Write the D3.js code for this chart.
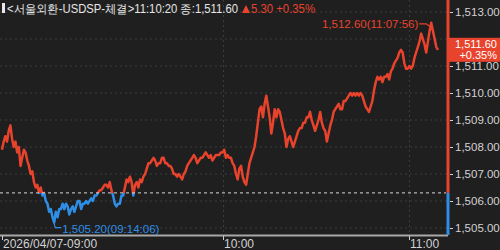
<!DOCTYPE html>
<html><head><meta charset="utf-8">
<script src="https://cdn.jsdelivr.net/npm/d3@7"></script>
<style>
html,body{margin:0;padding:0;background:#1f1f1f;}
svg{display:block;}
text{font-family:"Liberation Sans",Arial,sans-serif;}
</style></head>
<body><svg id="c" width="500" height="250"></svg>
<script>
// ---- data ----
const prices = [
1507.9,1508.2,1508.4,1508.2,1508.6,1508.8,1508.3,1508.0,1508.2,1507.8,
1508.0,1507.3,1507.6,1507.9,1507.8,1507.5,1507.3,1507.0,1507.1,1506.7,
1506.5,1506.6,1506.3,1506.5,1506.2,1506.3,1506.0,1505.9,1505.6,1505.7,
1505.4,1505.2,1505.6,1505.4,1505.7,1505.7,1505.9,1505.7,1505.9,1505.8,
1505.5,1505.7,1505.8,1505.6,1505.8,1506.0,1506.0,1505.7,1505.9,1505.9,
1506.0,1505.9,1506.0,1506.1,1506.0,1506.2,1506.2,1506.3,1506.4,1506.4,
1506.5,1506.6,1506.6,
1506.5,1506.7,1506.4,1506.2,1505.9,1505.8,1505.9,1505.9,1506.2,1506.2,
1506.5,1506.8,1506.7,1506.9,1506.7,1506.2,1506.6,1506.7,1506.5,1506.8,
1506.7,1506.9,1507.0,1507.2,1507.4,1507.4,1507.5,1507.6,1507.5,1507.3,
1507.4,1507.4,1507.6,1507.6,1507.4,1507.4,1507.3,1507.3,1507.2,1507.0,
1507.0,1506.9,1507.0,1506.9,1506.8,1507.0,1507.1,1507.3,1507.4,1507.5,
1507.6,1507.7,1507.6,1507.4,1507.5,1507.6,1507.6,1507.7,1507.8,1507.7,
1507.6,1507.7,1507.5,1507.6,1507.7,
1507.7,1507.7,1507.8,1507.8,1507.9,1507.6,1507.7,1507.6,1507.6,1507.4,
1507.3,1507.0,1506.8,1507.2,1507.3,1506.9,1506.7,1506.6,1507.0,1507.4,
1507.6,1507.8,1508.0,1508.4,1508.9,1509.4,1509.5,1509.1,1509.6,1509.9,
1509.5,1509.1,1508.5,1508.9,1509.4,1509.1,1509.4,1509.3,1509.0,1508.7,
1508.5,1508.0,1508.3,1508.4,1508.2,1508.0,1508.2,1508.4,1508.6,1508.7,
1508.7,1508.9,1508.9,1509.1,1509.1,1509.3,1509.0,1508.8,1508.6,1508.8,
1509.0,1509.3,1508.9,1508.7,1508.6,1508.2,
1508.5,1508.8,1509.0,1509.3,1509.4,1509.5,1509.6,1509.4,1509.4,1509.7,
1509.7,1509.8,1509.9,1510.0,1509.9,1510.0,1509.9,1510.0,1509.9,1510.0,
1509.9,1509.7,1509.5,1509.4,1509.3,1509.5,1509.7,1510.1,1510.4,1510.6,
1510.5,1510.6,1510.4,1510.6,1510.6,1510.7,1510.5,1510.8,1510.9,1511.1,
1511.2,1511.3,1511.5,1511.6,1511.5,1511.1,1510.9,1510.9,1511.0,1510.9,
1511.0,1511.3,1511.5,1511.7,1511.9,1512.2,1512.0,1511.8,1511.5,1511.9,
1512.3,1512.6,1512.3,1512.0,1511.7,1511.6
];
const yTickValues = [1505,1506,1507,1508,1509,1510,1511,1512,1513];
const xTickIndex = [0,131,242];
const xTickLabels = ["2026/04/07-09:00","10:00","11:00"];
const prevClose = 1506.30;
const lastTime = "11:10:20";
const highTime = "11:07:56";
const lowTime = "09:14:06";
const headerTitle = "<서울외환-USDSP-체결>";

// ---- drawing ----
const RED = "#e8432c", BLUE = "#2e8ee6", GRID = "#3c3c3c", TXT = "#d2d2d2";
const svg = d3.select("#c");
const axisX = 448, bottom = 235;
const x = d3.scaleLinear().domain([0, prices.length-1]).range([2, 438]);
const y = d3.scaleLinear().domain([1505, 1513]).range([228, 12]);
const fmt = d3.format(",.2f");
const last = prices[prices.length-1];
const change = last - prevClose;
const pct = change / prevClose * 100;
const yl = y(last);

svg.append("rect").attr("width",500).attr("height",250).attr("fill","#1f1f1f");

// horizontal grid
svg.append("g").selectAll("line").data(yTickValues).join("line")
  .attr("x1",0).attr("x2",axisX).attr("y1",d=>y(d)).attr("y2",d=>y(d))
  .attr("stroke",GRID).attr("stroke-dasharray","2,3");
// vertical grid
svg.append("g").selectAll("line").data(xTickIndex.slice(1)).join("line")
  .attr("x1",d=>Math.round(x(d))+0.5).attr("x2",d=>Math.round(x(d))+0.5).attr("y1",0).attr("y2",bottom)
  .attr("stroke",GRID).attr("stroke-dasharray","2,3");

// clip paths for red/blue
const yRef = y(prevClose);
const defs = svg.append("defs");
defs.append("clipPath").attr("id","above").append("rect").attr("x",0).attr("y",0).attr("width",axisX).attr("height",yRef);
defs.append("clipPath").attr("id","below").append("rect").attr("x",0).attr("y",yRef).attr("width",axisX).attr("height",bottom-yRef);

const line = d3.line().x((d,i)=>x(i)).y(d=>y(d));
svg.append("path").datum(prices).attr("d",line).attr("fill","none").attr("stroke",RED)
  .attr("stroke-width",2.5).attr("stroke-linejoin","round").attr("clip-path","url(#above)");
svg.append("path").datum(prices).attr("d",line).attr("fill","none").attr("stroke",BLUE)
  .attr("stroke-width",2.5).attr("stroke-linejoin","round").attr("clip-path","url(#below)");

// reference line (previous close)
svg.append("line").attr("x1",0).attr("x2",axisX-2).attr("y1",yRef).attr("y2",yRef)
  .attr("stroke","#d8d8d8").attr("stroke-dasharray","3,3").attr("stroke-width",1);

// x axis
svg.append("line").attr("x1",0).attr("x2",axisX).attr("y1",bottom+0.5).attr("y2",bottom+0.5)
  .attr("stroke","#a8a8a8").attr("stroke-width",2);
const xg = svg.append("g");
xg.selectAll("line").data(xTickIndex).join("line")
  .attr("x1",d=>Math.round(x(d))+0.5).attr("x2",d=>Math.round(x(d))+0.5).attr("y1",bottom+1).attr("y2",bottom+5)
  .attr("stroke","#cfcfcf");
xg.selectAll("text").data(xTickIndex).join("text")
  .attr("x",d=>Math.round(x(d))+1).attr("y",248)
  .attr("fill",TXT).attr("font-size",12).text((d,i)=>xTickLabels[i]);

// right axis (labels hidden by the current-price box are not drawn)
const yAxis = d3.axisRight(y).tickValues(yTickValues)
  .tickFormat(d => Math.abs(y(d) - yl) < 16 ? "" : fmt(d)).tickSize(3).tickPadding(2);
const ga = svg.append("g").attr("transform",`translate(${axisX+2},0)`).call(yAxis);
ga.select(".domain").remove();
ga.selectAll(".tick line").attr("stroke",TXT);
ga.selectAll(".tick text").attr("fill",TXT).attr("font-size",11.5)
  .attr("font-family","'Liberation Sans',Arial,sans-serif");
svg.append("line").attr("x1",axisX).attr("x2",axisX).attr("y1",0).attr("y2",yRef)
  .attr("stroke",RED).attr("stroke-width",3);
svg.append("line").attr("x1",axisX).attr("x2",axisX).attr("y1",yRef).attr("y2",bottom)
  .attr("stroke",BLUE).attr("stroke-width",3);

// current price box
svg.append("rect").attr("x",axisX).attr("y",yl-12).attr("width",52).attr("height",24).attr("fill",RED);
svg.append("text").attr("x",497).attr("y",yl-2).attr("text-anchor","end").attr("fill","#fff")
  .attr("font-size",11).text(fmt(last));
svg.append("text").attr("x",497).attr("y",yl+9).attr("text-anchor","end").attr("fill","#fff")
  .attr("font-size",11).text("+" + pct.toFixed(2) + "%");

// high / low annotations
const hiI = d3.maxIndex(prices), loI = d3.minIndex(prices);
const hx = x(hiI), hy = y(prices[hiI]);
svg.append("path").attr("d",`M${hx-12},${hy+1}H${hx-5}L${hx-1},${hy+4}`).attr("fill","none").attr("stroke",RED).attr("stroke-width",1.2);
svg.append("text").attr("x",hx-13).attr("y",hy+5).attr("text-anchor","end").attr("fill",RED)
  .attr("font-size",11.5).text(fmt(prices[hiI]) + "(" + highTime + ")");
const lx = x(loI), ly = y(prices[loI]);
svg.append("path").attr("d",`M${lx},${ly+1}L${lx+1},${ly+5}H${lx+7}`).attr("fill","none").attr("stroke",BLUE).attr("stroke-width",1.2);
svg.append("text").attr("x",lx+8).attr("y",ly+10).attr("fill",BLUE)
  .attr("font-size",11.5).text(fmt(prices[loI]) + "(" + lowTime + ")");

// header
svg.append("rect").attr("x",2).attr("y",3).attr("width",3).attr("height",10).attr("fill","#e8e8e8");
svg.append("text").attr("x",7).attr("y",13).attr("fill","#e6e6e6").attr("font-size",12)
  .attr("font-family","'Noto Sans CJK KR','Liberation Sans',sans-serif")
  .text(headerTitle + lastTime + " 종:" + fmt(last))
  .attr("textLength",231).attr("lengthAdjust","spacingAndGlyphs");
svg.append("path").attr("d","M242,13 L246,5 L250,13 Z").attr("fill",RED);
svg.append("text").attr("x",251).attr("y",13).attr("fill",RED).attr("font-size",12)
  .attr("font-family","'Noto Sans CJK KR','Liberation Sans',sans-serif")
  .text(change.toFixed(2) + " +" + pct.toFixed(2) + "%")
  .attr("textLength",64).attr("lengthAdjust","spacingAndGlyphs");
</script></body></html>
